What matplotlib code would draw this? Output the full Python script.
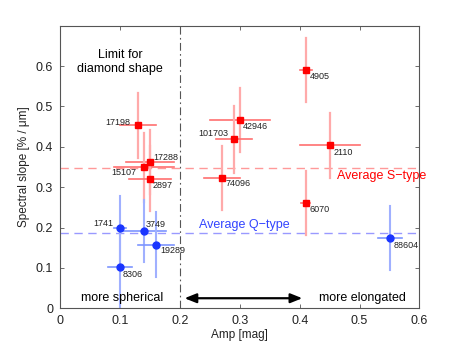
import matplotlib
matplotlib.use("Agg")
import matplotlib.pyplot as plt
from matplotlib.patches import FancyArrowPatch

plt.rcParams['font.family'] = ['Liberation Sans', 'DejaVu Sans']

# S-type asteroids
s_names = ["17198", "17288", "15107", "2897", "42946", "101703", "74096", "4905", "2110", "6070"]
s_amp = [0.13, 0.15, 0.14, 0.15, 0.30, 0.29, 0.27, 0.41, 0.45, 0.41]
s_slope = [0.453, 0.362, 0.349, 0.321, 0.467, 0.419, 0.323, 0.590, 0.404, 0.261]
s_amp_err = [0.03, 0.04, 0.05, 0.035, 0.05, 0.03, 0.03, 0.01, 0.05, 0.008]
s_slope_err = [0.08, 0.08, 0.085, 0.08, 0.08, 0.083, 0.08, 0.08, 0.08, 0.08]
s_offsets = [(-8, 3, 'right'), (3, 5, 'left'), (-8, -5, 'right'), (3, -7, 'left'),
             (3, -7, 'left'), (-6, 6, 'right'), (4, -6, 'left'), (4, -6, 'left'),
             (4, -7, 'left'), (4, -7, 'left')]

# Q-type asteroids
q_names = ["1741", "3749", "19289", "8306", "88604"]
q_amp = [0.10, 0.14, 0.16, 0.10, 0.55]
q_slope = [0.198, 0.192, 0.158, 0.102, 0.174]
q_amp_err = [0.01, 0.037, 0.03, 0.02, 0.02]
q_slope_err = [0.08, 0.077, 0.08, 0.1, 0.08]
q_offsets = [(-7, 5, 'right'), (2, 6, 'left'), (4, -6, 'left'), (3, -7, 'left'), (4, -7, 'left')]

avg_s = 0.347
avg_q = 0.187
limit_amp = 0.2

fig = plt.figure(figsize=(4.63, 3.48), dpi=100)
ax = fig.add_axes([0.13, 0.114, 0.776, 0.812])

ax.axhline(avg_s, color='#ff9999', ls=(0, (6, 4)), lw=1.0, zorder=1)
ax.axhline(avg_q, color='#9999ff', ls=(0, (6, 4)), lw=1.0, zorder=1)
ax.axvline(limit_amp, color='#555555', ls=(0, (7, 3, 1.5, 3)), lw=0.8, zorder=1)

for x, y, xe, ye in zip(s_amp, s_slope, s_amp_err, s_slope_err):
    ax.plot([x, x], [y - ye, y + ye], color='#ffaaaa', lw=1.6, zorder=2)
    ax.plot([x - xe, x + xe], [y, y], color='#ff7070', lw=1.2, zorder=2)
ax.plot(s_amp, s_slope, 's', color='red', ms=4.5, ls='none', zorder=3)

for x, y, xe, ye in zip(q_amp, q_slope, q_amp_err, q_slope_err):
    ax.plot([x, x], [y - ye, y + ye], color='#a0b0ff', lw=1.5, zorder=2)
    ax.plot([x - xe, x + xe], [y, y], color='#7d95ff', lw=1.2, zorder=2)
ax.plot(q_amp, q_slope, 'o', color='#1a35ff', ms=5, ls='none', zorder=3)

for n, x, y, (dx, dy, ha) in zip(s_names, s_amp, s_slope, s_offsets):
    ax.annotate(n, (x, y), xytext=(dx, dy), textcoords='offset pixels',
                ha=ha, va='center', fontsize=6.5, color='#222222')
for n, x, y, (dx, dy, ha) in zip(q_names, q_amp, q_slope, q_offsets):
    ax.annotate(n, (x, y), xytext=(dx, dy), textcoords='offset pixels',
                ha=ha, va='center', fontsize=6.5, color='#222222')

ax.text(0.462, 0.329, "Average S\u2212type", color='red', fontsize=9, ha='left', va='center')
ax.text(0.231, 0.207, "Average Q\u2212type", color='#3344ff', fontsize=9, ha='left', va='center')
ax.text(0.10, 0.611, "Limit for\ndiamond shape", fontsize=9, ha='center', va='center',
        linespacing=1.25, color='black')
ax.text(0.103, 0.025, "more spherical", fontsize=9, ha='center', va='center')
ax.text(0.504, 0.025, "more elongated", fontsize=9, ha='center', va='center')

arrow = FancyArrowPatch((0.203, 0.025), (0.409, 0.025),
                        arrowstyle='<|-|>,head_length=7,head_width=2.8',
                        color='black', lw=1.6, mutation_scale=1, zorder=4)
ax.add_patch(arrow)

ax.set_xlim(0, 0.6)
ax.set_ylim(0, 0.7)
ax.set_xticks([0, 0.1, 0.2, 0.3, 0.4, 0.5, 0.6])
ax.set_xticklabels(["0", "0.1", "0.2", "0.3", "0.4", "0.5", "0.6"])
ax.set_yticks([0, 0.1, 0.2, 0.3, 0.4, 0.5, 0.6])
ax.set_yticklabels(["0", "0.1", "0.2", "0.3", "0.4", "0.5", "0.6"])
ax.tick_params(direction='in', top=True, right=True, length=3, width=0.6,
               labelsize=9, colors='#555555', labelcolor='#222222', pad=5)
for s in ax.spines.values():
    s.set_color('#555555')
    s.set_linewidth(0.8)
ax.set_xlabel("Amp [mag]", fontsize=8.5, color='#222222', labelpad=1)
ax.set_ylabel("Spectral slope [% / \u03bcm]", fontsize=8.5, color='#222222', labelpad=4)

fig.savefig("out.png", dpi=100)
